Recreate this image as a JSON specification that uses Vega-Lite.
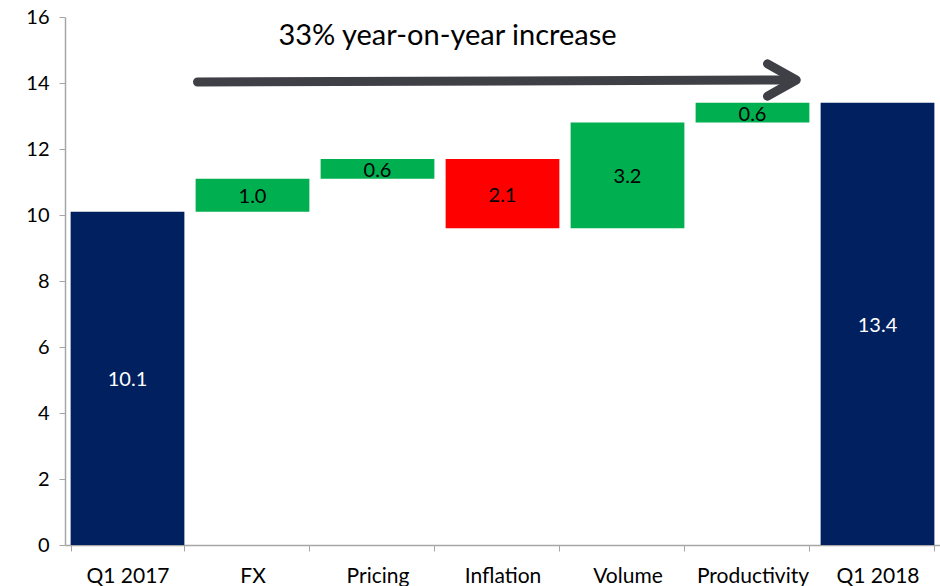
{
  "$schema": "https://vega.github.io/schema/vega-lite/v6.json",
  "width": 875,
  "height": 528,
  "autosize": "none",
  "padding": {"left": 65, "top": 17, "right": 0, "bottom": 41},
  "background": "white",
  "config": {
    "view": {"stroke": null},
    "font": "Lato",
    "axis": {"labelFont": "Lato", "labelFontSize": 21, "labelColor": "black", "domainColor": "#a6a6a6", "tickColor": "#a6a6a6", "grid": false, "title": null}
  },
  "layer": [
    {
      "data": {"values": [
        {"cat": "Q1 2017", "start": 0, "end": 10.1, "label": "10.1", "color": "#002060", "tcolor": "white"},
        {"cat": "FX", "start": 10.1, "end": 11.1, "label": "1.0", "color": "#00B050", "tcolor": "black"},
        {"cat": "Pricing", "start": 11.1, "end": 11.7, "label": "0.6", "color": "#00B050", "tcolor": "black"},
        {"cat": "Inflation", "start": 11.7, "end": 9.6, "label": "2.1", "color": "#FF0000", "tcolor": "black"},
        {"cat": "Volume", "start": 9.6, "end": 12.8, "label": "3.2", "color": "#00B050", "tcolor": "black"},
        {"cat": "Productivity", "start": 12.8, "end": 13.4, "label": "0.6", "color": "#00B050", "tcolor": "black"},
        {"cat": "Q1 2018", "start": 0, "end": 13.4, "label": "13.4", "color": "#002060", "tcolor": "white"}
      ]},
      "encoding": {
        "x": {"field": "cat", "type": "nominal", "sort": null,
              "scale": {"paddingInner": 0.09, "paddingOuter": 0.045},
              "axis": {"labelAngle": 0, "tickBand": "extent", "tickSize": 6, "labelPadding": 14, "domainWidth": 1.5}}
      },
      "layer": [
        {
          "mark": {"type": "bar"},
          "encoding": {
            "y": {"field": "start", "type": "quantitative", "scale": {"domain": [0, 16]},
                  "axis": {"values": [0, 2, 4, 6, 8, 10, 12, 14, 16], "tickSize": 6, "labelPadding": 10, "domainWidth": 1.5, "labelFontSize": 20}},
            "y2": {"field": "end"},
            "color": {"field": "color", "type": "nominal", "scale": null}
          }
        },
        {
          "transform": [{"calculate": "(datum.start + datum.end) / 2", "as": "mid"}],
          "mark": {"type": "text", "fontSize": 20, "baseline": "middle", "dy": 2},
          "encoding": {
            "y": {"field": "mid", "type": "quantitative"},
            "text": {"field": "label"},
            "color": {"field": "tcolor", "type": "nominal", "scale": null}
          }
        }
      ]
    },
    {
      "data": {"values": [
        {"seg": "shaft", "ord": 1, "ax": 1.06, "ay": 14.03},
        {"seg": "shaft", "ord": 2, "ax": 5.80, "ay": 14.09},
        {"seg": "head", "ord": 1, "ax": 5.62, "ay": 14.58},
        {"seg": "head", "ord": 2, "ax": 5.85, "ay": 14.09},
        {"seg": "head", "ord": 3, "ax": 5.62, "ay": 13.6}
      ]},
      "mark": {"type": "line", "color": "#3f3f46", "strokeWidth": 9, "strokeCap": "round", "strokeJoin": "round"},
      "encoding": {
        "x": {"field": "ax", "type": "quantitative", "scale": {"domain": [0, 7]}, "axis": null},
        "y": {"field": "ay", "type": "quantitative"},
        "detail": {"field": "seg"},
        "order": {"field": "ord"}
      }
    },
    {
      "data": {"values": [{"txt": "33% year-on-year increase", "tx": 3.06, "ty": 15.42}]},
      "mark": {"type": "text", "fontSize": 29, "color": "black", "baseline": "middle"},
      "encoding": {
        "x": {"field": "tx", "type": "quantitative", "scale": {"domain": [0, 7]}, "axis": null},
        "y": {"field": "ty", "type": "quantitative"},
        "text": {"field": "txt"}
      }
    }
  ],
  "resolve": {"scale": {"x": "independent"}, "axis": {"x": "independent"}}
}
